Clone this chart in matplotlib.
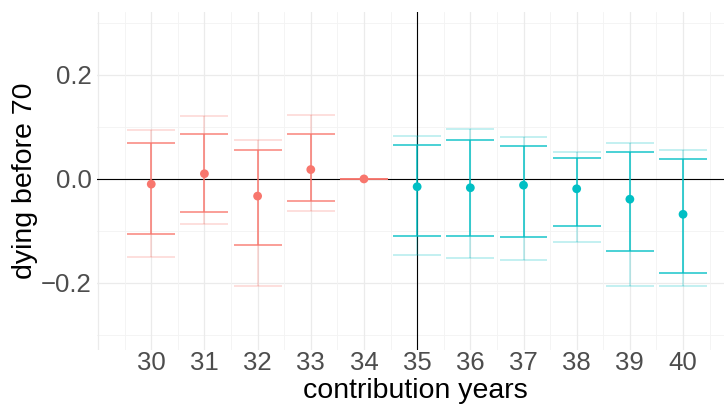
import matplotlib
matplotlib.use('Agg')
import matplotlib.pyplot as plt
import numpy as np

plt.rcParams['font.family'] = ['Liberation Sans', 'DejaVu Sans']

years = [30, 31, 32, 33, 34, 35, 36, 37, 38, 39, 40]
est = [-0.010, 0.010, -0.033, 0.018, 0.0, -0.015, -0.017, -0.012, -0.019, -0.039, -0.068]
inner_lo = [-0.105, -0.064, -0.128, -0.043, 0.0, -0.110, -0.110, -0.112, -0.090, -0.138, -0.180]
inner_hi = [0.069, 0.087, 0.055, 0.087, 0.0, 0.066, 0.074, 0.064, 0.040, 0.052, 0.039]
outer_lo = [-0.150, -0.086, -0.205, -0.062, 0.0, -0.146, -0.153, -0.156, -0.122, -0.206, -0.205]
outer_hi = [0.094, 0.121, 0.074, 0.122, 0.0, 0.083, 0.096, 0.080, 0.051, 0.069, 0.056]

red = '#F8766D'
teal = '#00BFC4'
cols = [red if y < 35 else teal for y in years]

W, H = 724, 411
fig = plt.figure(figsize=(W / 100, H / 100), dpi=100)
ax = fig.add_axes([97 / W, 1 - 350 / H, 627 / W, 338 / H])

# grid like theme_minimal
for v in [-0.3, -0.1, 0.1, 0.3]:
    ax.axhline(v, color='#F3F3F3', lw=0.6, zorder=0)
for v in [-0.2, 0.0, 0.2]:
    ax.axhline(v, color='#EBEBEB', lw=0.9, zorder=0)
for v in np.arange(29.5, 41, 1.0):
    ax.axvline(v, color='#F3F3F3', lw=0.6, zorder=0)
for v in years + [29]:
    ax.axvline(v, color='#EBEBEB', lw=0.9, zorder=0)

ax.axhline(0, color='black', lw=0.8, zorder=1)
ax.axvline(35, color='black', lw=0.8, zorder=1)

w = 0.45
x = np.array(years)
ax.vlines(x, outer_lo, outer_hi, colors=cols, alpha=0.3, lw=1.1, zorder=2)
ax.hlines(outer_lo, x - w, x + w, colors=cols, alpha=0.3, lw=1.1, zorder=2)
ax.hlines(outer_hi, x - w, x + w, colors=cols, alpha=0.3, lw=1.1, zorder=2)
ax.vlines(x, inner_lo, inner_hi, colors=cols, alpha=0.9, lw=1.1, zorder=3)
ax.hlines(inner_lo, x - w, x + w, colors=cols, alpha=0.9, lw=1.1, zorder=3)
ax.hlines(inner_hi, x - w, x + w, colors=cols, alpha=0.9, lw=1.1, zorder=3)
ax.scatter(x, est, c=cols, s=40, zorder=4, linewidths=0)

ax.set_xlim(28.98, 40.77)
ax.set_ylim(-0.329, 0.321)
ax.set_xticks(years)
ax.set_yticks([-0.2, 0.0, 0.2])
ax.set_yticklabels(['\u22120.2', '0.0', '0.2'])
ax.tick_params(length=0, labelsize=18.5, colors='#4D4D4D')
ax.tick_params(axis='x', pad=1)
ax.tick_params(axis='y', pad=3.6)
for s in ax.spines.values():
    s.set_visible(False)

fig.text(415 / W, 1 - 398 / H, 'contribution years', fontsize=20.5,
         ha='center', va='baseline')
fig.text(25 / W, 1 - 181 / H, 'dying before 70', fontsize=20.5,
         rotation=90, ha='center', va='center')

fig.savefig('out.png', dpi=100)
